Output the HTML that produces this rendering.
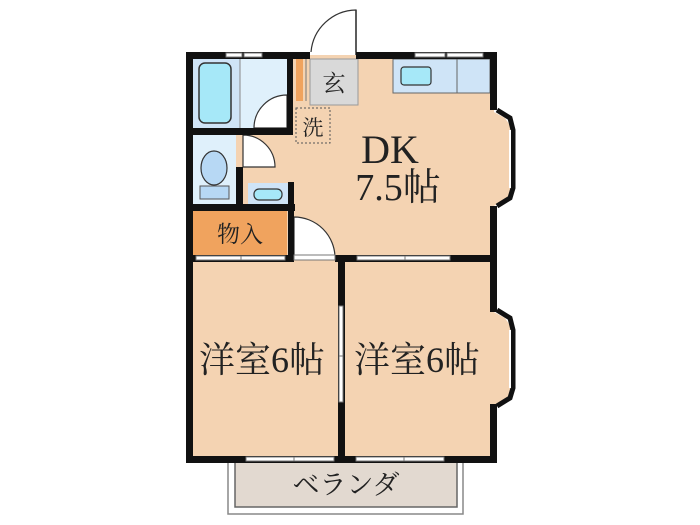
<!DOCTYPE html>
<html><head><meta charset="utf-8"><style>
html,body{margin:0;padding:0;background:#fff;width:700px;height:525px;overflow:hidden}
svg{display:block}
text{font-family:"Liberation Serif","Noto Serif CJK SC",serif;fill:#222}
</style></head><body>
<svg width="700" height="525" viewBox="0 0 700 525" xmlns="http://www.w3.org/2000/svg">
<!-- veranda -->
<rect x="228" y="460" width="235" height="54" fill="#fff" stroke="#888" stroke-width="1.5"/>
<rect x="235" y="460" width="222" height="47" fill="#e2d9d0" stroke="#666" stroke-width="1.5"/>
<text x="346" y="494" font-size="27" text-anchor="middle" font-family="Liberation Sans,'Noto Sans CJK JP',sans-serif">ベランダ</text>

<!-- floors -->
<rect x="190" y="55" width="304" height="405" fill="#f4d3b2"/>
<!-- bath -->
<rect x="193" y="59" width="47" height="69" fill="#cfe4f7"/>
<rect x="199" y="63" width="32" height="60" rx="6" fill="#a6e8f8" stroke="#333" stroke-width="1.5"/>
<rect x="240" y="59" width="47" height="69" fill="#dff0fb"/>
<line x1="240" y1="59" x2="240" y2="128" stroke="#888" stroke-width="1"/>
<path d="M287 95 A33 33 0 0 0 254 128 L287 128 Z" fill="#fff" stroke="#333" stroke-width="1.2"/>
<!-- toilet -->
<rect x="193" y="135" width="43" height="69" fill="#dff0fb"/>
<ellipse cx="214" cy="168" rx="13" ry="17" fill="#b7d8f4" stroke="#333" stroke-width="1.2"/>
<rect x="200" y="186" width="29" height="13" fill="#b7d8f4" stroke="#555" stroke-width="1"/>
<!-- toilet door -->
<path d="M243 135 A32 32 0 0 1 275 167 L243 167 Z" fill="#fff" stroke="#333" stroke-width="1.2"/>
<!-- small sink -->
<rect x="248" y="183" width="40" height="21" fill="#cfe4f7"/>
<rect x="254" y="189" width="28" height="11" rx="5" fill="#a6e8f8" stroke="#333" stroke-width="1.2"/>
<!-- storage -->
<rect x="193" y="211" width="94" height="44" fill="#f0a35e"/>
<text x="240" y="242" font-size="23" text-anchor="middle">物入</text>
<!-- storage door arc -->
<path d="M294 217 A41 41 0 0 1 335 258 L294 258 Z" fill="#fff" stroke="#333" stroke-width="1.2"/>
<!-- genkan -->
<rect x="310" y="59" width="48" height="46" fill="#d9d9d9" stroke="#999" stroke-width="1"/>
<text x="334" y="91" font-size="23" text-anchor="middle">玄</text>
<rect x="296" y="59" width="7" height="42" fill="#f0a35e"/>
<line x1="306" y1="59" x2="306" y2="101" stroke="#777" stroke-width="1"/>
<!-- 洗 -->
<rect x="296" y="108" width="34" height="35" fill="none" stroke="#555" stroke-width="1" stroke-dasharray="2,2"/>
<text x="313" y="135" font-size="21" text-anchor="middle">洗</text>
<!-- entrance door -->
<path d="M356 52 L356 10 A46 46 0 0 0 311 52" fill="none" stroke="#333" stroke-width="1.2"/>
<line x1="356" y1="10" x2="356" y2="55" stroke="#333" stroke-width="1.5"/>
<!-- kitchen counter -->
<rect x="393" y="59" width="64" height="34" fill="#cfe4f7" stroke="#666" stroke-width="1"/>
<rect x="457" y="59" width="33" height="34" fill="#cfe4f7" stroke="#666" stroke-width="1"/>
<rect x="401" y="67" width="30" height="18" rx="3" fill="#a6e8f8" stroke="#333" stroke-width="1.2"/>

<!-- bay windows -->
<g>
<polygon points="490,110 505,118 513,130 513,190 505,200 490,208" fill="#f4d3b2"/>
<path d="M497,110 L510,118 L513,130 L513,188 L510,198 L497,206" fill="none" stroke="#111" stroke-width="5"/>
<line x1="510" y1="130" x2="510" y2="188" stroke="#fff" stroke-width="2"/>
</g>
<g>
<polygon points="490,310 505,318 513,330 513,390 505,400 490,408" fill="#f4d3b2"/>
<path d="M497,310 L510,318 L513,330 L513,388 L510,398 L497,406" fill="none" stroke="#111" stroke-width="5"/>
<line x1="510" y1="330" x2="510" y2="388" stroke="#fff" stroke-width="2"/>
</g>

<!-- walls -->
<g fill="#111">
<rect x="186" y="52" width="124" height="7"/>
<rect x="356" y="52" width="141" height="7"/>
<rect x="186" y="52" width="7" height="411"/>
<rect x="490" y="52" width="7" height="58"/>
<rect x="490" y="206" width="7" height="106"/>
<rect x="490" y="404" width="7" height="59"/>
<rect x="186" y="456" width="311" height="7"/>
<rect x="287" y="52" width="6" height="83"/>
<rect x="186" y="128" width="107" height="7"/>
<rect x="236" y="167" width="7" height="44"/>
<rect x="186" y="204" width="109" height="7"/>
<rect x="288" y="182" width="6" height="80"/>
<rect x="186" y="255" width="108" height="7"/>
<rect x="335" y="255" width="162" height="7"/>
<rect x="338" y="255" width="7" height="208"/>
</g>
<!-- wall openings (windows) -->
<g fill="#fff" stroke="#777" stroke-width="1">
<rect x="226" y="53" width="16" height="4"/><rect x="244" y="53" width="18" height="4"/>
<rect x="415" y="53" width="30" height="4"/><rect x="447" y="53" width="36" height="4"/>
<rect x="196" y="256" width="45" height="4"/><rect x="241" y="256" width="44" height="4"/>
<rect x="357" y="256" width="48" height="4"/><rect x="405" y="256" width="45" height="4"/>
<rect x="246" y="457" width="48" height="4"/><rect x="294" y="457" width="40" height="4"/>
<rect x="356" y="457" width="48" height="4"/><rect x="404" y="457" width="40" height="4"/>
<rect x="339" y="306" width="4" height="50"/><rect x="339" y="356" width="4" height="46"/>
<rect x="294" y="255" width="41" height="5"/>
</g>

<!-- labels -->
<text x="390" y="163" font-size="40" text-anchor="middle">DK</text>
<text x="398" y="200" font-size="38" text-anchor="middle">7.5帖</text>
<text x="262" y="372" font-size="36" text-anchor="middle">洋室6帖</text>
<text x="417" y="372" font-size="36" text-anchor="middle">洋室6帖</text>
</svg>
</body></html>
